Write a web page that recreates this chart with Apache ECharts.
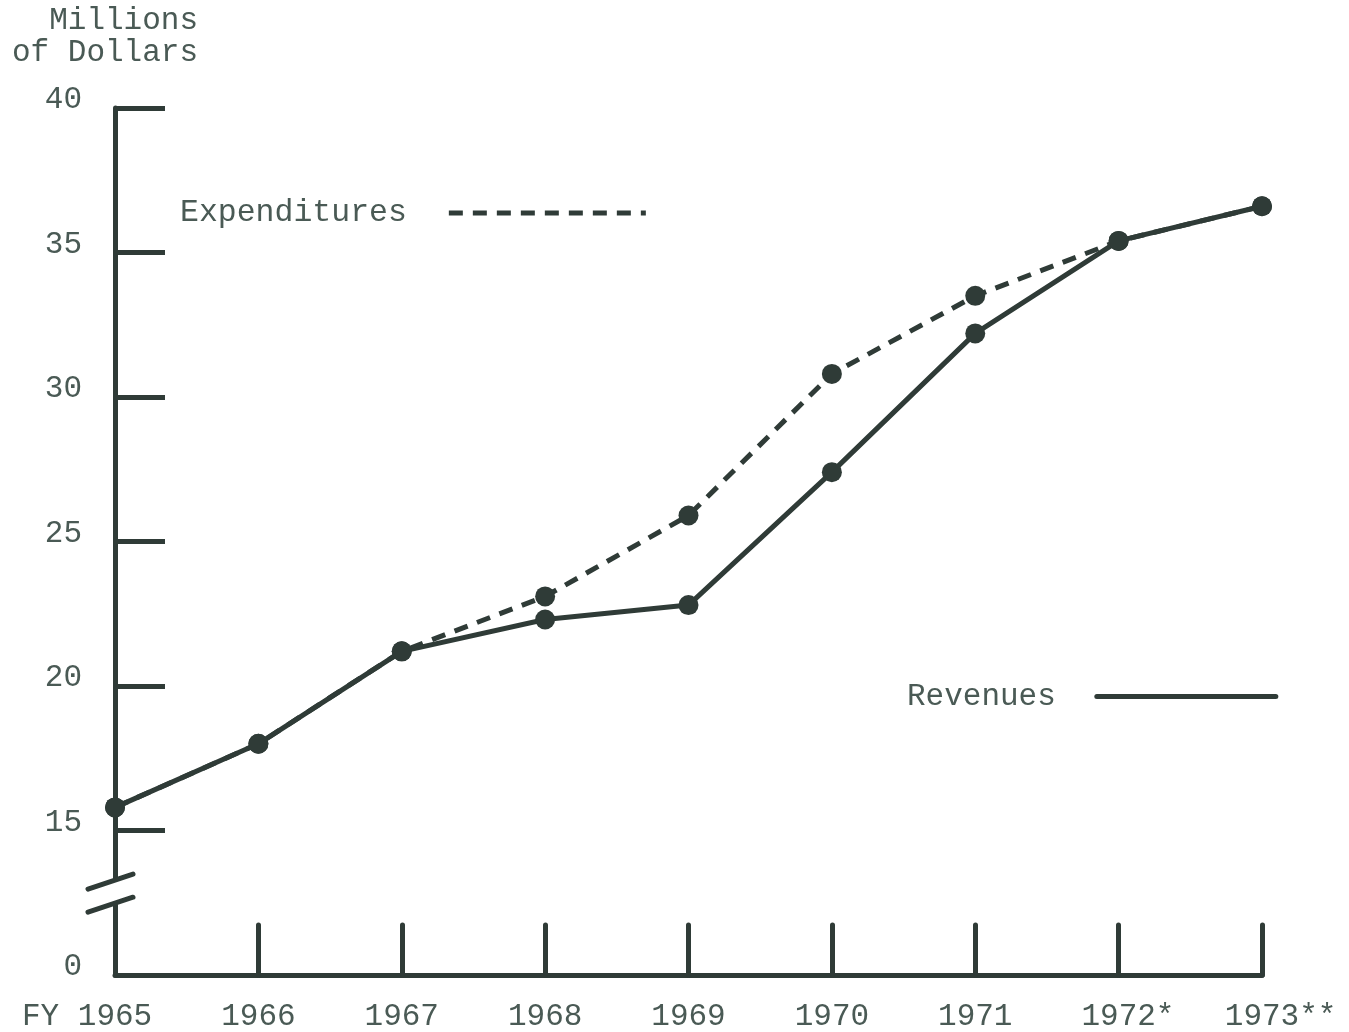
<!DOCTYPE html>
<html>
<head>
<meta charset="utf-8">
<title>Revenues and Expenditures</title>
<script src="https://cdn.jsdelivr.net/npm/echarts@6.0.0/dist/echarts.min.js"></script>
<style>
  html, body { margin: 0; padding: 0; background: #fff; }
  #chart { width: 1349px; height: 1032px; }
</style>
</head>
<body>
<div id="chart"></div>
<script>
// fiscal years along the bottom
const years = ['FY 1965', '1966', '1967', '1968', '1969', '1970', '1971', '1972*', '1973**'];
// millions of dollars
const revenues = [15.8, 18.0, 21.2, 22.3, 22.8, 27.4, 32.2, 35.4, 36.6];
const expenditures = [15.8, 18.0, 21.2, 23.1, 25.9, 30.8, 33.5, 35.4, 36.6];
// y tick values and their labels (scale is broken, bottom tick stands for 0)
const yTicks = [10, 15, 20, 25, 30, 35, 40];
const yTickLabels = ['0', '15', '20', '25', '30', '35', '40'];

const ink = '#2f3b37';
const textColor = '#4a5a55';
const font = 'Liberation Mono';
const dash = [14, 10];

// pad a label with spaces so the 4-digit year sits centred on its tick
function centreYear(label) {
  const i = label.search(/\d{4}/);
  const before = i, after = label.length - i - 4;
  if (before > after) return label + ' '.repeat(before - after);
  return ' '.repeat(after - before) + label;
}

let chart = echarts.init(document.getElementById('chart'));

let option = {
  backgroundColor: '#ffffff',
  animation: false,
  title: {
    text: 'Millions\nof Dollars',
    left: 198,
    top: 5,
    padding: 0,
    textAlign: 'right',
    textStyle: { fontFamily: font, fontSize: 31, fontWeight: 'normal', color: textColor, lineHeight: 32 }
  },
  legend: [
    {
      data: ['Expenditures'],
      left: 180, top: 197, padding: 0,
      align: 'right', itemWidth: 197, itemHeight: 5,
      selectedMode: false,
      itemStyle: { opacity: 0 },
      lineStyle: { width: 5, type: dash, color: ink },
      textStyle: { fontFamily: font, fontSize: 31.5, color: textColor, lineHeight: 30, padding: [0, 37, 0, 0] }
    },
    {
      data: ['Revenues'],
      left: 907, top: 681, padding: 0,
      align: 'right', itemWidth: 179, itemHeight: 5,
      selectedMode: false,
      itemStyle: { opacity: 0 },
      lineStyle: { width: 5, color: ink, cap: 'round' },
      textStyle: { fontFamily: font, fontSize: 31, color: textColor, lineHeight: 30, padding: [0, 36, 0, 0] }
    }
  ],
  grid: { left: 115, right: 87, top: 108, bottom: 57 },
  xAxis: {
    type: 'category',
    data: years,
    boundaryGap: false,
    axisLine: { lineStyle: { color: ink, width: 5, cap: 'round' } },
    axisTick: { inside: true, length: 50, lineStyle: { color: ink, width: 5, cap: 'round' } },
    axisLabel: {
      interval: 0, hideOverlap: false, margin: 26,
      fontFamily: font, fontSize: 31, color: textColor,
      formatter: centreYear
    }
  },
  yAxis: {
    type: 'value',
    min: 10, max: 40, interval: 5,
    splitLine: { show: false },
    axisLine: { show: true, lineStyle: { color: ink, width: 5 } },
    axisTick: { show: true, inside: true, length: 50, lineStyle: { color: ink, width: 5 } },
    axisLabel: {
      margin: 33, fontFamily: font, fontSize: 31, color: textColor,
      verticalAlign: 'bottom', lineHeight: 16,
      formatter: v => yTickLabels[yTicks.indexOf(v)]
    }
  },
  series: [
    {
      name: 'Expenditures',
      type: 'line',
      z: 2,
      data: expenditures,
      symbol: 'circle',
      symbolSize: 20,
      itemStyle: { color: ink },
      lineStyle: { color: ink, width: 5, type: dash }
    },
    {
      name: 'Revenues',
      type: 'line',
      z: 3,
      data: revenues,
      symbol: 'circle',
      symbolSize: 20,
      itemStyle: { color: ink },
      lineStyle: { color: ink, width: 5 }
    }
  ]
};

chart.setOption(option);

// scale break on the y axis: blank out a piece of the axis and add two slashes
const axisX = chart.convertToPixel({ xAxisIndex: 0 }, 0);
const breakTop = chart.convertToPixel({ yAxisIndex: 0 }, 13.25);
const breakBottom = chart.convertToPixel({ yAxisIndex: 0 }, 12.45);
chart.setOption({
  graphic: [
    {
      type: 'rect', z: 100,
      shape: { x: axisX - 6, y: breakTop, width: 12, height: breakBottom - breakTop },
      style: { fill: '#ffffff' }
    },
    {
      type: 'line', z: 101,
      shape: { x1: axisX - 27, y1: breakTop + 8, x2: axisX + 18, y2: breakTop - 7 },
      style: { stroke: ink, lineWidth: 5, lineCap: 'round' }
    },
    {
      type: 'line', z: 101,
      shape: { x1: axisX - 27, y1: breakBottom + 8, x2: axisX + 18, y2: breakBottom - 7 },
      style: { stroke: ink, lineWidth: 5, lineCap: 'round' }
    }
  ]
});
</script>
</body>
</html>
